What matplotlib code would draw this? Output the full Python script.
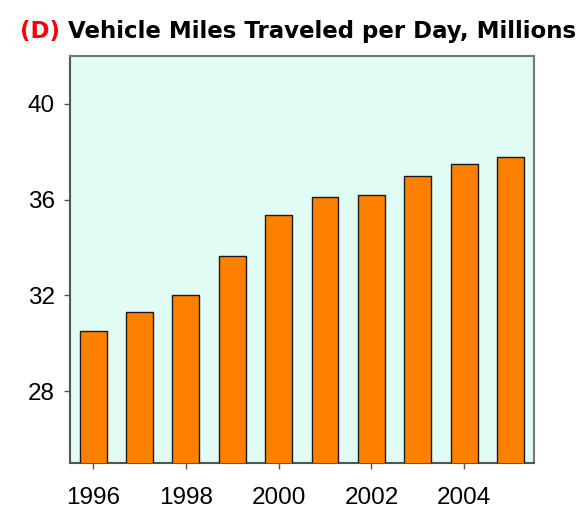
import matplotlib.pyplot as plt
import numpy as np

years = [1996, 1997, 1998, 1999, 2000, 2001, 2002, 2003, 2004, 2005]
vmt_millions = [30.5, 31.3, 32.0, 33.65, 35.35, 36.1, 36.2, 37.0, 37.5, 37.8]
xtick_years = [1996, 1998, 2000, 2002, 2004]
ytick_values = [28, 32, 36, 40]

fig = plt.figure(figsize=(5.81, 5.15), dpi=100)
ax = fig.add_axes([0.1205, 0.101, 0.798, 0.790])
ax.set_facecolor("#e0fcf4")

ax.bar(years, vmt_millions, width=0.58, bottom=0, color="#ff8000",
       edgecolor="#1a1a1a", linewidth=1.0, zorder=3)

ax.set_xlim(1995.5, 2005.5)
ax.set_ylim(25, 42)
ax.set_xticks(xtick_years)
ax.set_yticks(ytick_values)
ax.tick_params(axis="both", direction="out", length=4, width=1, color="#555555",
               labelsize=17.5, pad=7)
for lab in ax.get_xticklabels() + ax.get_yticklabels():
    lab.set_family("Liberation Sans")
ax.tick_params(axis="x", pad=13)

for side in ["left", "bottom"]:
    ax.spines[side].set_color("#555555")
    ax.spines[side].set_linewidth(1.5)
for side in ["top", "right"]:
    ax.spines[side].set_color("#777777")
    ax.spines[side].set_linewidth(1.5)

red = fig.text(0.034, 0.927, "(D)", color="#ff0000", fontsize=16.5,
               fontweight="heavy", family="DejaVu Sans", va="baseline")
ax.annotate(" Vehicle Miles Traveled per Day, Millions", xy=(1, 0),
            xycoords=red, va="bottom", ha="left", color="black", fontsize=16.5,
            fontweight="heavy", family="DejaVu Sans", annotation_clip=False)

fig.savefig("out.png", dpi=100)
